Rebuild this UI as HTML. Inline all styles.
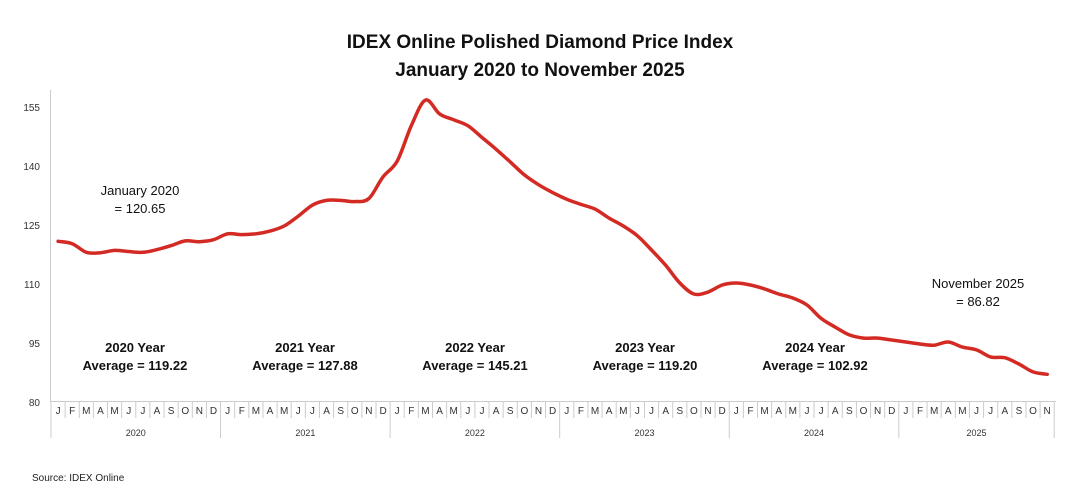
<!DOCTYPE html>
<html><head><meta charset="utf-8"><style>
body{margin:0;background:#fff;width:1080px;height:493px;overflow:hidden;font-family:"Liberation Sans",sans-serif}
</style></head><body>
<svg width="1080" height="493" xmlns="http://www.w3.org/2000/svg" font-family="Liberation Sans, sans-serif">
<text x="540" y="48" text-anchor="middle" font-size="19" font-weight="bold" fill="#111">IDEX Online Polished Diamond Price Index</text>
<text x="540" y="76" text-anchor="middle" font-size="19" font-weight="bold" fill="#111">January 2020 to November 2025</text>
<line x1="50.5" y1="90" x2="50.5" y2="402" stroke="#ccc"/>
<line x1="50" y1="401.5" x2="1056" y2="401.5" stroke="#ccc"/>
<g font-size="10" fill="#333" text-anchor="end">
<text x="40" y="111">155</text><text x="40" y="170">140</text><text x="40" y="229">125</text>
<text x="40" y="288">110</text><text x="40" y="347">95</text><text x="40" y="406">80</text>
</g>
<g id="ax" font-size="10" fill="#333" text-anchor="middle"></g>
<g font-size="13" fill="#111" text-anchor="middle">
<text x="140" y="195">January 2020</text><text x="140" y="213">= 120.65</text>
<text x="978" y="288">November 2025</text><text x="978" y="306">= 86.82</text>
</g>
<g font-size="13" font-weight="bold" fill="#111" text-anchor="middle">
<text x="135" y="352">2020 Year</text><text x="135" y="370">Average = 119.22</text>
<text x="305" y="352">2021 Year</text><text x="305" y="370">Average = 127.88</text>
<text x="475" y="352">2022 Year</text><text x="475" y="370">Average = 145.21</text>
<text x="645" y="352">2023 Year</text><text x="645" y="370">Average = 119.20</text>
<text x="815" y="352">2024 Year</text><text x="815" y="370">Average = 102.92</text>
</g>
<path id="ln" fill="none" stroke="#d42a24" stroke-width="3.5" stroke-linejoin="round" stroke-linecap="round"/>
<text x="32" y="481" font-size="10" fill="#222">Source: IDEX Online</text>
</svg>
<script>
var v=[120.6,120,117.8,117.7,118.3,118,117.8,118.5,119.5,120.7,120.5,121,
122.5,122.3,122.5,123.2,124.5,127,129.8,131,131,130.7,131.5,137,
141,150,156.5,153,151.5,150,147,144,140.8,137.5,135,133,
131.3,130,128.8,126.5,124.5,122,118.4,114.5,110,107.2,107.7,109.5,
110,109.5,108.5,107.2,106.2,104.4,101,98.8,96.8,96,96,95.5,
95,94.5,94.2,95,93.7,93,91.2,91,89.4,87.4,86.8];
var w=14.13,x0=51;
var P=v.map(function(a,i){return[x0+w*(i+.5),401-(a-80)*3.933]});
var d="M"+P[0][0].toFixed(1)+","+P[0][1].toFixed(1);
for(var i=0;i<P.length-1;i++){var p0=P[Math.max(i-1,0)],p1=P[i],p2=P[i+1],p3=P[Math.min(i+2,P.length-1)];
d+=" C"+(p1[0]+(p2[0]-p0[0])/6).toFixed(1)+","+(p1[1]+(p2[1]-p0[1])/6).toFixed(1)+" "+(p2[0]-(p3[0]-p1[0])/6).toFixed(1)+","+(p2[1]-(p3[1]-p1[1])/6).toFixed(1)+" "+p2[0].toFixed(1)+","+p2[1].toFixed(1);}
document.getElementById("ln").setAttribute("d",d);
var m="JFMAMJJASOND",s="",ns="http://www.w3.org/2000/svg",g=document.getElementById("ax"),h="";
for(var k=0;k<71;k++){var x=x0+w*k;h+='<line x1="'+x+'" y1="402" x2="'+x+'" y2="'+(k%12==0?438:418)+'" stroke="#ccc"/>';
h+='<text x="'+(x+w/2)+'" y="414">'+m[k%12]+'</text>';}
h+='<line x1="'+(x0+w*71)+'" y1="402" x2="'+(x0+w*71)+'" y2="438" stroke="#ccc"/>';
for(var y=0;y<6;y++){var a=x0+w*12*y,b=Math.min(a+w*12,x0+w*71);h+='<text x="'+((a+b)/2)+'" y="436" font-size="9">'+(2020+y)+'</text>';}
g.innerHTML=h;
</script>
</body></html>
